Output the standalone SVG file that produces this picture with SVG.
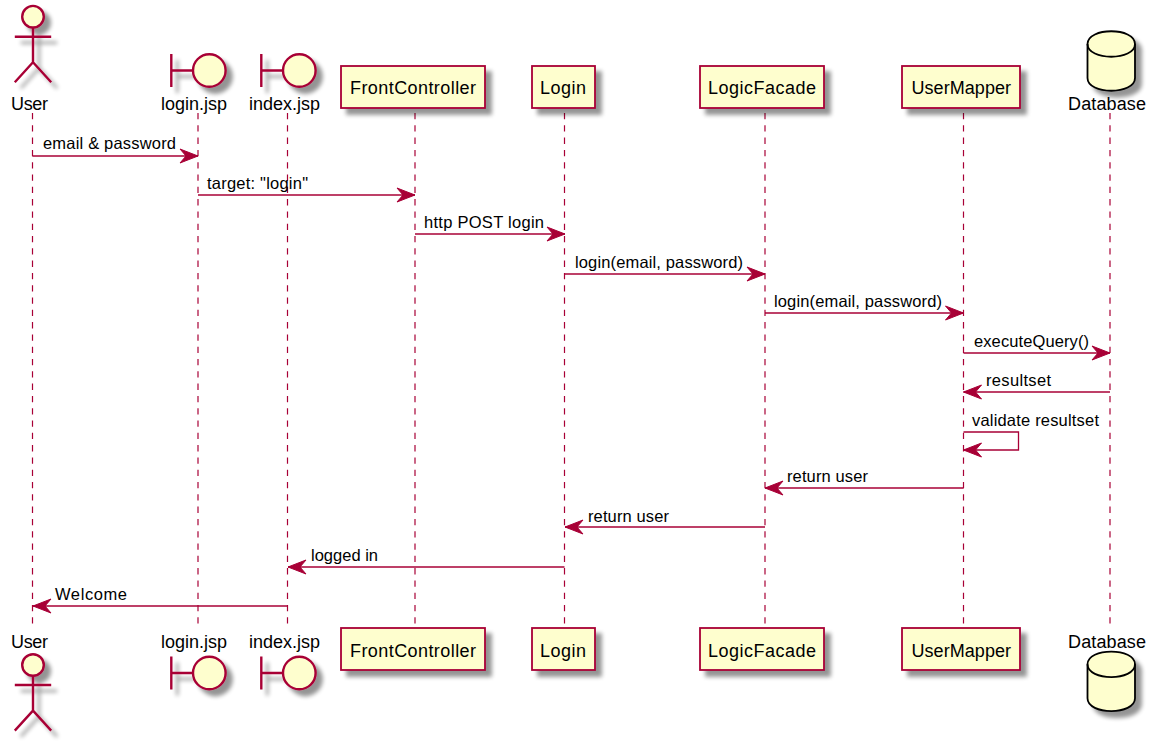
<svg xmlns="http://www.w3.org/2000/svg" width="1160" height="744" viewBox="0 0 1160 744">
<style>
text{font-family:"Liberation Sans",Arial,sans-serif;fill:#000}
.n{font-size:18px}
.m{font-size:16.500px}
.life{stroke:#A80036;stroke-width:1.2;stroke-dasharray:6.300,6;fill:none}
.msg{stroke:#A80036;stroke-width:1.3;fill:none}
.box{fill:#FEFECE;stroke:#A80036;stroke-width:1.8}
.sk{fill:none;stroke:#A80036;stroke-width:2.4}
.hd{fill:#FEFECE;stroke:#A80036;stroke-width:2.4}
.db{fill:#FEFECE;stroke:#000;stroke-width:1.8}
.lid{fill:none;stroke:#000;stroke-width:1.8}
</style>
<defs>
<filter id="sh" x="-40%" y="-40%" width="190%" height="190%"><feGaussianBlur in="SourceAlpha" stdDeviation="2"/><feOffset dx="6" dy="6"/><feComponentTransfer><feFuncA type="linear" slope="0.42"/></feComponentTransfer><feMerge><feMergeNode/><feMergeNode in="SourceGraphic"/></feMerge></filter>
<marker id="ar" markerUnits="userSpaceOnUse" markerWidth="20" markerHeight="16" refX="19" refY="8" orient="auto" viewBox="0 0 20 16"><path d="M1,1 L19,8 L1,15 L7,8 Z" fill="#A80036" stroke="#A80036" stroke-width="1"/></marker>
<g id="actorShape"><circle cx="0" cy="0" r="10.8" class="hd"/><path d="M0,10.8 V45.600 M-18.200,20 H18.200 M-18.200,65.600 L0,45.600 L18.200,65.600" class="sk"/></g>
<g id="boundaryShape"><path d="M-24.700,-16.500 V16.500 M-24.700,0 H-3 " class="sk"/><circle cx="13.300" cy="0" r="16.300" class="hd"/></g>
<g id="dbShape"><path d="M0,13 C0,-4 47.500,-4 47.500,13 V47 C47.500,64 0,64 0,47 Z" class="db"/><path d="M0,13 C0,30 47.500,30 47.500,13" class="lid"/></g>
</defs>
<g id="lifelines">
<path class="life" d="M32.5,113V628"/><path class="life" d="M198,113V628"/><path class="life" d="M287.5,113V628"/><path class="life" d="M415,113V628"/><path class="life" d="M564.5,113V628"/><path class="life" d="M765,113V628"/><path class="life" d="M963.5,113V628"/><path class="life" d="M1110,113V628"/>
</g>
<g id="connectors">
<path class="msg" marker-end="url(#ar)" d="M32.5,156H198"/>
<path class="msg" marker-end="url(#ar)" d="M198,195H415"/>
<path class="msg" marker-end="url(#ar)" d="M415,234H565"/>
<path class="msg" marker-end="url(#ar)" d="M564.5,274H765"/>
<path class="msg" marker-end="url(#ar)" d="M765,313H963.5"/>
<path class="msg" marker-end="url(#ar)" d="M963.5,353H1110"/>
<path class="msg" marker-end="url(#ar)" d="M1110,392H963.500"/>
<path class="msg" marker-end="url(#ar)" d="M963.5,432H1018.500V450H963.500"/>
<path class="msg" marker-end="url(#ar)" d="M963.5,488H765"/>
<path class="msg" marker-end="url(#ar)" d="M765,527H565"/>
<path class="msg" marker-end="url(#ar)" d="M564.5,567H288"/>
<path class="msg" marker-end="url(#ar)" d="M287.5,606H33"/>
<text class="m" x="43" y="149" textLength="133">email &amp; password</text>
<text class="m" x="207" y="188.500" textLength="101">target: "login"</text>
<text class="m" x="424" y="228" textLength="120">http POST login</text>
<text class="m" x="575" y="267.500" textLength="168">login(email, password)</text>
<text class="m" x="774" y="307" textLength="168">login(email, password)</text>
<text class="m" x="974" y="346.500" textLength="115">executeQuery()</text>
<text class="m" x="986" y="386" textLength="65">resultset</text>
<text class="m" x="972" y="425.500" textLength="127">validate resultset</text>
<text class="m" x="787" y="482" textLength="81">return user</text>
<text class="m" x="588" y="521.500" textLength="81">return user</text>
<text class="m" x="311" y="561" textLength="67">logged in</text>
<text class="m" x="55" y="600" textLength="72">Welcome</text>
</g>
<g id="user-top"><use href="#actorShape" x="33" y="16.700" filter="url(#sh)"/><text class="n" x="11" y="109.500" textLength="37">User</text></g>
<g id="loginjsp-top"><use href="#boundaryShape" x="196" y="70.500" filter="url(#sh)"/><text class="n" x="161" y="109.500" textLength="66">login.jsp</text></g>
<g id="indexjsp-top"><use href="#boundaryShape" x="286" y="70.500" filter="url(#sh)"/><text class="n" x="249" y="109.500" textLength="71">index.jsp</text></g>
<g id="frontcontroller-top"><rect class="box" x="341" y="66" width="144" height="42" filter="url(#sh)"/><text class="n" x="350" y="94" textLength="126">FrontController</text></g>
<g id="login-top"><rect class="box" x="532" y="66" width="63" height="42" filter="url(#sh)"/><text class="n" x="540" y="94" textLength="46">Login</text></g>
<g id="logicfacade-top"><rect class="box" x="700" y="66" width="124" height="42" filter="url(#sh)"/><text class="n" x="708" y="94" textLength="108">LogicFacade</text></g>
<g id="usermapper-top"><rect class="box" x="902" y="66" width="118" height="42" filter="url(#sh)"/><text class="n" x="911.500" y="94" textLength="99.500">UserMapper</text></g>
<g id="database-top"><use href="#dbShape" x="1087.500" y="31" filter="url(#sh)"/><text class="n" x="1068" y="109.500" textLength="78">Database</text></g>
<g id="user-bottom"><text class="n" x="11" y="647.500" textLength="37">User</text><use href="#actorShape" x="33" y="665" filter="url(#sh)"/></g>
<g id="loginjsp-bottom"><text class="n" x="161" y="647.500" textLength="66">login.jsp</text><use href="#boundaryShape" x="196" y="673" filter="url(#sh)"/></g>
<g id="indexjsp-bottom"><text class="n" x="249" y="647.500" textLength="71">index.jsp</text><use href="#boundaryShape" x="286" y="673" filter="url(#sh)"/></g>
<g id="frontcontroller-bottom"><rect class="box" x="341" y="628" width="144" height="42" filter="url(#sh)"/><text class="n" x="350" y="656.500" textLength="126">FrontController</text></g>
<g id="login-bottom"><rect class="box" x="532" y="628" width="63" height="42" filter="url(#sh)"/><text class="n" x="540" y="656.500" textLength="46">Login</text></g>
<g id="logicfacade-bottom"><rect class="box" x="700" y="628" width="124" height="42" filter="url(#sh)"/><text class="n" x="708" y="656.500" textLength="108">LogicFacade</text></g>
<g id="usermapper-bottom"><rect class="box" x="902" y="628" width="118" height="42" filter="url(#sh)"/><text class="n" x="911.500" y="656.500" textLength="99.500">UserMapper</text></g>
<g id="database-bottom"><text class="n" x="1068" y="647.500" textLength="78">Database</text><use href="#dbShape" x="1087.500" y="651.300" filter="url(#sh)"/></g>
</svg>
